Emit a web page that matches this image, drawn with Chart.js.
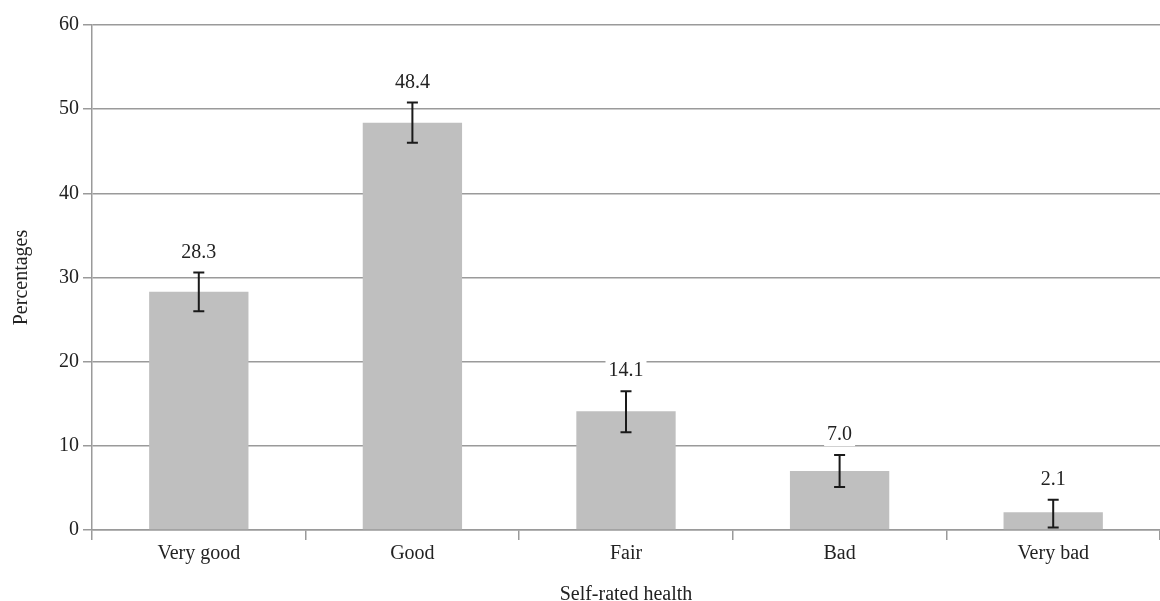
<!DOCTYPE html>
<html>
<head>
<meta charset="utf-8">
<script src="https://cdn.jsdelivr.net/npm/chart.js@4.4.0/dist/chart.umd.min.js"></script>
<style>
  html, body { margin: 0; padding: 0; background: #fff; }
  #wrap { width: 1160px; height: 601px; position: relative; }
</style>
</head>
<body>
<div id="wrap"><canvas id="healthChart"></canvas></div>
<script>
// data
const categories = ['Very good', 'Good', 'Fair', 'Bad', 'Very bad'];
const percentages = [28.3, 48.4, 14.1, 7.0, 2.1];
const errLow = [26.0, 46.0, 11.6, 5.1, 0.3];
const errHigh = [30.6, 50.8, 16.5, 8.9, 3.6];
const yTicks = [0, 10, 20, 30, 40, 50, 60];

const fontFamily = '"Liberation Serif", "DejaVu Serif", serif';
const gridColor = '#9a9a9a';

// error bars + value labels
const errorBarPlugin = {
    id: 'errorBars',
    afterDatasetsDraw(chart) {
        const ctx = chart.ctx;
        const xs = chart.scales.x;
        const ys = chart.scales.y;
        ctx.save();
        for (let i = 0; i < categories.length; i++) {
            const x = xs.getPixelForValue(i);
            const yTop = ys.getPixelForValue(errHigh[i]);
            const yBot = ys.getPixelForValue(errLow[i]);
            ctx.strokeStyle = '#1a1a1a';
            ctx.lineWidth = 2;
            ctx.beginPath();
            ctx.moveTo(x, yTop); ctx.lineTo(x, yBot);
            ctx.moveTo(x - 5.5, yTop); ctx.lineTo(x + 5.5, yTop);
            ctx.moveTo(x - 5.5, yBot); ctx.lineTo(x + 5.5, yBot);
            ctx.stroke();

            // label with white box behind it
            const txt = percentages[i].toFixed(1);
            ctx.font = '20px ' + fontFamily;
            const w = ctx.measureText(txt).width;
            const cy = yTop - 20;
            ctx.fillStyle = '#fff';
            ctx.fillRect(x - w / 2 - 3, cy - 11, w + 6, 22);
            ctx.fillStyle = '#222';
            ctx.textAlign = 'center';
            ctx.textBaseline = 'middle';
            ctx.fillText(txt, x, cy);
        }
        ctx.restore();
    }
};

const ctx = document.getElementById('healthChart').getContext('2d');
new Chart(ctx, {
    type: 'bar',
    data: {
        labels: categories,
        datasets: [{
            label: 'Percentages',
            data: percentages,
            backgroundColor: '#bfbfbf',
            borderWidth: 0,
            barPercentage: 0.93,
            categoryPercentage: 0.5
        }]
    },
    options: {
        responsive: true,
        maintainAspectRatio: false,
        animation: false,
        layout: { padding: { top: 25, right: 0, left: 0, bottom: 0 } },
        plugins: {
            legend: { display: false },
            tooltip: { enabled: false }
        },
        scales: {
            x: {
                grid: {
                    offset: true,
                    drawOnChartArea: false,
                    drawTicks: true,
                    tickLength: 10,
                    color: gridColor,
                    lineWidth: 1.5
                },
                border: { color: gridColor, width: 1.5 },
                ticks: {
                    color: '#222',
                    font: { family: fontFamily, size: 20 },
                    padding: 2
                },
                title: {
                    display: true,
                    text: 'Self-rated health',
                    color: '#222',
                    font: { family: fontFamily, size: 20 },
                    padding: { top: 21, bottom: -6 }
                },
                afterFit(scale) { scale.height = 71; }
            },
            y: {
                min: 0,
                max: 60,
                afterBuildTicks(scale) {
                    scale.ticks = yTicks.map(v => ({ value: v }));
                },
                grid: {
                    color: gridColor,
                    lineWidth: 1.5,
                    drawTicks: true,
                    tickLength: 9
                },
                border: { color: gridColor, width: 1.5 },
                ticks: {
                    color: '#222',
                    font: { family: fontFamily, size: 20 },
                    padding: 4
                },
                title: {
                    display: true,
                    text: 'Percentages',
                    color: '#222',
                    font: { family: fontFamily, size: 20 },
                    padding: { top: 10, bottom: 8 }
                },
                afterFit(scale) { scale.width = 92; }
            }
        }
    },
    plugins: [errorBarPlugin]
});
</script>
</body>
</html>
